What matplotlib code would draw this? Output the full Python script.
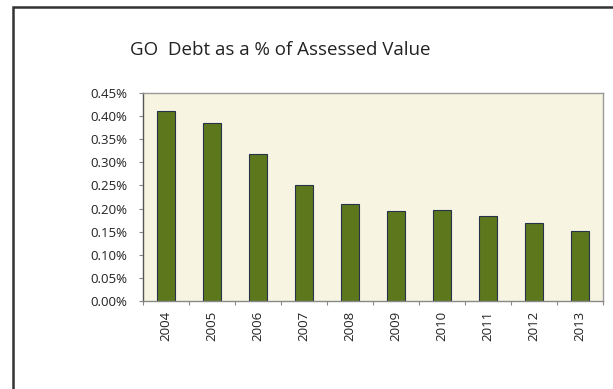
import matplotlib
matplotlib.use("Agg")
import matplotlib.pyplot as plt
from matplotlib.patches import Rectangle
from matplotlib.ticker import FuncFormatter, MultipleLocator

years = ["2004", "2005", "2006", "2007", "2008", "2009", "2010", "2011", "2012", "2013"]
debt_pct = [0.41, 0.385, 0.318, 0.251, 0.209, 0.194, 0.197, 0.184, 0.168, 0.152]

title = "GO  Debt as a % of Assessed Value"

W, H = 613, 389
fig = plt.figure(figsize=(W / 100, H / 100), dpi=100)
fig.patch.set_facecolor("white")

# outer chart frame (runs off the right and bottom edges)
fig.add_artist(Rectangle((12.5 / W, -0.1), 1.2, (H - 7.5) / H + 0.1,
                         transform=fig.transFigure, fill=False,
                         edgecolor="#333333", linewidth=1.8))

ax = fig.add_axes([143 / W, (H - 301) / H, (603 - 143) / W, (301 - 93) / H])
ax.set_facecolor("#f7f5e1")

x = list(range(len(years)))
ax.bar(x, debt_pct, width=0.4, color="#5c771c", edgecolor="#26324a", linewidth=0.8)

ax.set_xlim(-0.5, len(years) - 0.5)
ax.set_ylim(0, 0.45)
ax.yaxis.set_major_locator(MultipleLocator(0.05))
ax.yaxis.set_major_formatter(FuncFormatter(lambda v, p: f"{v:.2f}%"))

ax.set_xticks([i - 0.5 for i in range(len(years) + 1)])
ax.set_xticklabels([])
ax.set_xticks(x, minor=True)
ax.set_xticklabels(years, minor=True, rotation=90, fontsize=9.5,
                   family="Open Sans", color="#222222")
ax.tick_params(axis="x", which="minor", length=0, pad=7)
ax.tick_params(axis="x", which="major", length=3, color="#888888", direction="out")
ax.tick_params(axis="y", length=3, color="#888888", direction="out",
               labelsize=9.5, labelcolor="#222222", pad=8.5)
for lbl in ax.get_yticklabels():
    lbl.set_family("Open Sans")

for side, col in [("left", "#555555"), ("bottom", "#888888"),
                  ("top", "#999999"), ("right", "#999999")]:
    ax.spines[side].set_color(col)
    ax.spines[side].set_linewidth(1.0)

fig.text(130 / W, 1 - 50 / H, title, fontsize=13.5, family="Open Sans",
         color="#222222", ha="left", va="center")

fig.savefig("out.png", dpi=100)
